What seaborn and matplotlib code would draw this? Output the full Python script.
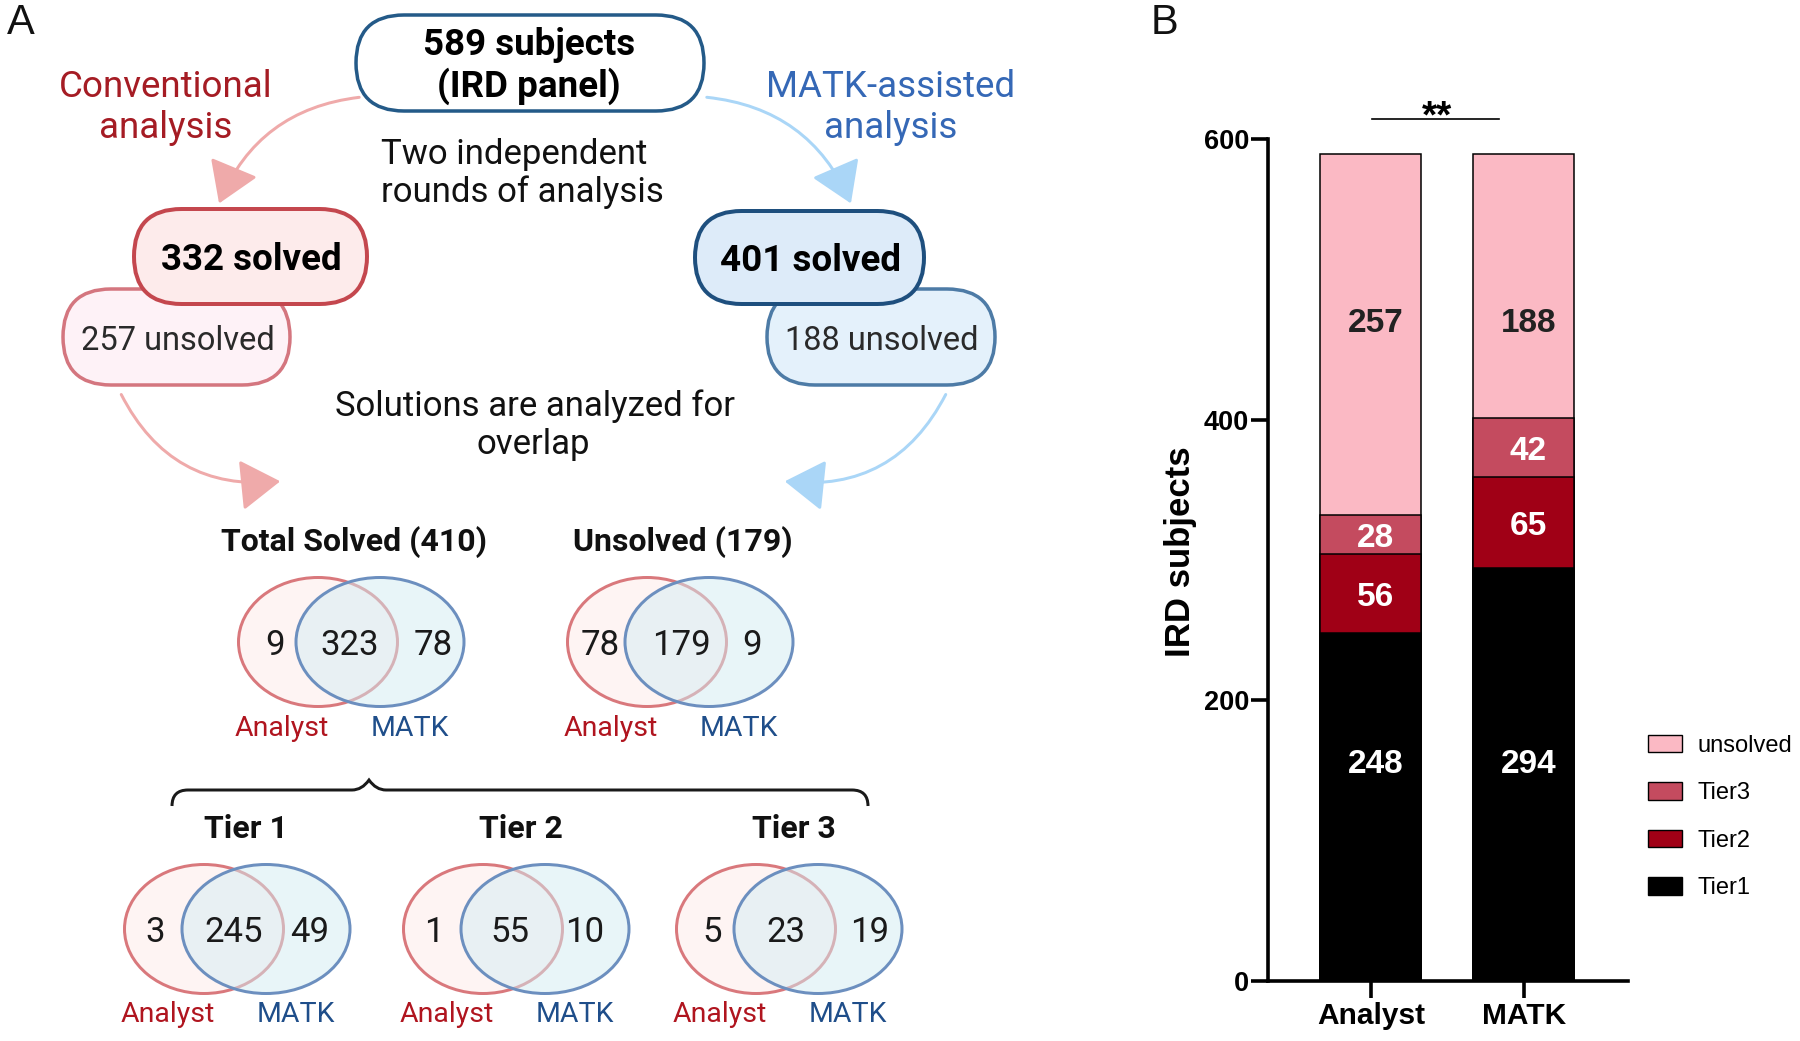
import numpy as np
import pandas as pd
import matplotlib
matplotlib.use("Agg")
import matplotlib.pyplot as plt
import seaborn as sns
from matplotlib.patches import FancyBboxPatch, Ellipse, FancyArrowPatch, Patch, PathPatch
from matplotlib.path import Path

# ---------------- data ----------------
groups = ["Analyst", "MATK"]
tier1 = [248, 294]
tier2 = [56, 65]
tier3 = [28, 42]
unsolved = [257, 188]
layer_names = ["Tier1", "Tier2", "Tier3", "unsolved"]
y_ticks = [0, 200, 400, 600]
significance = "**"

top_box_lines = ["589 subjects", "(IRD panel)"]
conv_solved_text = "332 solved"
conv_unsolved_text = "257 unsolved"
matk_solved_text = "401 solved"
matk_unsolved_text = "188 unsolved"
conv_label_lines = ["Conventional", "analysis"]
matk_label_lines = ["MATK-assisted", "analysis"]
rounds_lines = ["Two independent", "rounds of analysis"]
overlap_lines = ["Solutions are analyzed for", "overlap"]

venn_titles = ["Total Solved (410)", "Unsolved (179)", "Tier 1", "Tier 2", "Tier 3"]
venn_left_only = [9, 78, 3, 1, 5]
venn_both = [323, 179, 245, 55, 23]
venn_right_only = [78, 9, 49, 10, 19]
venn_left_label = "Analyst"
venn_right_label = "MATK"

# ---------------- style / layout ----------------
W, H = 1800, 1041
FA = "Roboto"
FB = ["Liberation Sans", "DejaVu Sans"]
PX = 0.72  # points per pixel at dpi 100

bar_colors = {"Tier1": "#000000", "Tier2": "#A00016", "Tier3": "#C44B5F", "unsolved": "#FBB9C4"}

fig = plt.figure(figsize=(W / 100, H / 100), dpi=100)
fig.patch.set_facecolor("white")

# ================= Panel A (pixel coordinate canvas) =================
axa = fig.add_axes([0, 0, 1, 1])
axa.set_xlim(0, W)
axa.set_ylim(H, 0)
axa.axis("off")
axa.set_zorder(0)


def pill(x0, y0, w, h, fc, ec, lw, z):
    p = FancyBboxPatch((x0, y0), w, h, boxstyle=f"round,pad=0,rounding_size={h / 2}",
                       fc=fc, ec=ec, lw=lw * PX, zorder=z)
    axa.add_patch(p)


def txt(x, y, s, size, color="#111111", weight="normal", family=FA, va="center_baseline", ha="center"):
    axa.text(x, y, s, fontsize=size, color=color, fontweight=weight, family=family,
             ha=ha, va=va, zorder=10)


# panel letters
txt(21, 23, "A", 30, color="#111111", family=FB, va="center")
txt(1165, 23, "B", 30, color="#111111", family=FB, va="center")


def arrow(a, b, rad, color):
    ar = FancyArrowPatch(a, b, connectionstyle=f"arc3,rad={rad}",
                         arrowstyle="-|>,head_length=2.5,head_width=1.6",
                         mutation_scale=10, color=color, lw=3 * PX, zorder=1)
    axa.add_patch(ar)


pink_arrow = "#EFAAAA"
blue_arrow = "#AAD6F7"
arrow((362, 97), (218, 206), 0.3, pink_arrow)
arrow((704, 97), (852, 206), -0.3, blue_arrow)
arrow((120, 392), (283, 481), 0.35, pink_arrow)
arrow((947, 392), (782, 481), -0.35, blue_arrow)

# top box
pill(356, 15, 348, 96, "white", "#245A88", 3.5, 3)
txt(529, 41, top_box_lines[0], 26.5, color="#000000", weight="bold")
txt(529, 82, top_box_lines[1], 26.5, color="#000000", weight="bold")

# side labels
txt(166, 83, conv_label_lines[0], 26.5, color="#A51C24")
txt(166, 124, conv_label_lines[1], 26.5, color="#A51C24")
txt(891, 83, matk_label_lines[0], 26.5, color="#3568B6")
txt(891, 124, matk_label_lines[1], 26.5, color="#3568B6")
txt(381, 151, rounds_lines[0], 25, color="#111111", ha="left")
txt(381, 189, rounds_lines[1], 25, color="#111111", ha="left")

# solved / unsolved boxes
pill(63, 289, 227, 96, "#FEF2F7", "#D4767F", 3.5, 2)
pill(134, 209, 233, 95, "#FDEBEB", "#C4474E", 4, 3)
txt(178, 338, conv_unsolved_text, 23.5, color="#2a2a2a")
txt(251, 256, conv_solved_text, 26.5, color="#000000", weight="bold")

pill(767, 289, 228, 96, "#E4F1FB", "#4D7BA6", 3.5, 2)
pill(695, 211, 229, 93, "#DDEBF9", "#1E4F7E", 4, 3)
txt(882, 338, matk_unsolved_text, 23.5, color="#2a2a2a")
txt(810, 257, matk_solved_text, 26.5, color="#000000", weight="bold")

txt(535, 403, overlap_lines[0], 25, color="#111111")
txt(533, 441, overlap_lines[1], 25, color="#111111")

# venn diagrams
venn_anchor = [(318, 642), (647, 642), (204, 929), (483, 929), (756, 929)]
venn_num_x = [(275, 350, 433), (600, 681, 752), (155, 234, 310), (434, 510, 585), (712, 786, 870)]
red_w, blue_w, venn_h, blue_dx = 159, 168, 129, 62
for i, (cx, cy) in enumerate(venn_anchor):
    axa.add_patch(Ellipse((cx, cy), red_w, venn_h, fc="#FEF4F3", ec="#D9787C", lw=3 * PX, zorder=4))
    axa.add_patch(Ellipse((cx + blue_dx, cy), blue_w, venn_h, fc=(211 / 255, 237 / 255, 243 / 255, 0.5),
                          ec="none", zorder=5))
    axa.add_patch(Ellipse((cx + blue_dx, cy), blue_w, venn_h, fc="none", ec="#6C8FBF", lw=3 * PX, zorder=5))
    title_dx = 36 if i < 2 else 42 if i == 2 else 38
    txt(cx + title_dx, cy - 103, venn_titles[i], 23, color="#111111", weight="bold")
    xl, xb, xr = venn_num_x[i]
    txt(xl, cy, str(venn_left_only[i]), 25, color="#1a1a1a")
    txt(xb, cy, str(venn_both[i]), 25, color="#1a1a1a")
    txt(xr, cy, str(venn_right_only[i]), 25, color="#1a1a1a")
    txt(cx - 36, cy + 83, venn_left_label, 20.5, color="#B0151F")
    txt(cx + 92, cy + 83, venn_right_label, 20.5, color="#1F4E8A")

# brace
verts = [(172, 806), (172, 790), (188, 790), (352, 790), (362, 790), (369, 780),
         (376, 790), (386, 790), (852, 790), (868, 790), (868, 806)]
codes = [Path.MOVETO, Path.CURVE3, Path.CURVE3, Path.LINETO, Path.CURVE3, Path.CURVE3,
         Path.CURVE3, Path.CURVE3, Path.LINETO, Path.CURVE3, Path.CURVE3]
axa.add_patch(PathPatch(Path(verts, codes), fc="none", ec="#1a1a1a", lw=3 * PX, zorder=4))

# ================= Panel B (seaborn stacked bars) =================
left, right = 1268 / W, 1628 / W
bottom, top = 1 - 981 / H, 1 - 139 / H
axb = fig.add_axes([left, bottom, right - left, top - bottom])
axb.set_zorder(2)
axb.patch.set_alpha(0)

df = pd.DataFrame({"group": groups, "Tier1": tier1, "Tier2": tier2, "Tier3": tier3, "unsolved": unsolved})
cum = df[layer_names].cumsum(axis=1)
cum["group"] = groups

for name in reversed(layer_names):
    sns.barplot(data=cum, x="group", y=name, color=bar_colors[name], width=0.66,
                edgecolor="black", linewidth=1.1, saturation=1, errorbar=None, ax=axb)

axb.set_xlim(-0.673, 1.68)
axb.set_ylim(0, 600)
axb.set_yticks(y_ticks)
axb.set_yticklabels([str(t) for t in y_ticks], fontsize=19.5, fontweight="bold", family=FB)
axb.set_xticks(range(len(groups)))
axb.set_xticklabels(groups, fontsize=21.5, fontweight="bold", family=FB)
axb.set_xlabel("")
axb.set_ylabel("IRD subjects", fontsize=25, fontweight="bold", family=FB, color="black")
axb.yaxis.set_label_coords(-0.197, 0.51)
for s in ["top", "right"]:
    axb.spines[s].set_visible(False)
for s in ["left", "bottom"]:
    axb.spines[s].set_linewidth(2.6)
    axb.spines[s].set_color("black")
axb.tick_params(axis="both", length=12, width=2.6, color="black", labelcolor="black")
axb.tick_params(axis="y", pad=1.5)
axb.tick_params(axis="x", pad=3)

# segment labels
fixed_label_y = {"Tier1": 157, "unsolved": 471}
label_colors = {"Tier1": "white", "Tier2": "white", "Tier3": "white", "unsolved": "#222222"}
for i in range(len(groups)):
    base = 0
    for name in layer_names:
        v = df.loc[i, name]
        y = fixed_label_y.get(name, base + v / 2)
        axb.text(i + 0.03, y, str(v), ha="center", va="center_baseline", fontsize=24,
                 fontweight="bold", family=FB, color=label_colors[name])
        base += v

# significance bar
axb.plot([0.01, 0.84], [614, 614], color="black", lw=1.2, clip_on=False)
axb.text(0.43, 608, significance, ha="center", va="baseline", fontsize=28, fontweight="bold",
         family=FB, color="black")

# legend
handles = [Patch(facecolor=bar_colors[n], edgecolor="black", linewidth=1.0) for n in reversed(layer_names)]
axb.legend(handles, list(reversed(layer_names)), loc="upper left",
           bbox_to_anchor=(1636 / W, 1 - 723 / H), bbox_transform=fig.transFigure,
           frameon=False, borderpad=0, handlelength=1.45, handleheight=0.75,
           handletextpad=0.65, labelspacing=1.08, prop={"family": FB, "size": 17})

fig.savefig("out.png", dpi=100, facecolor="white")
